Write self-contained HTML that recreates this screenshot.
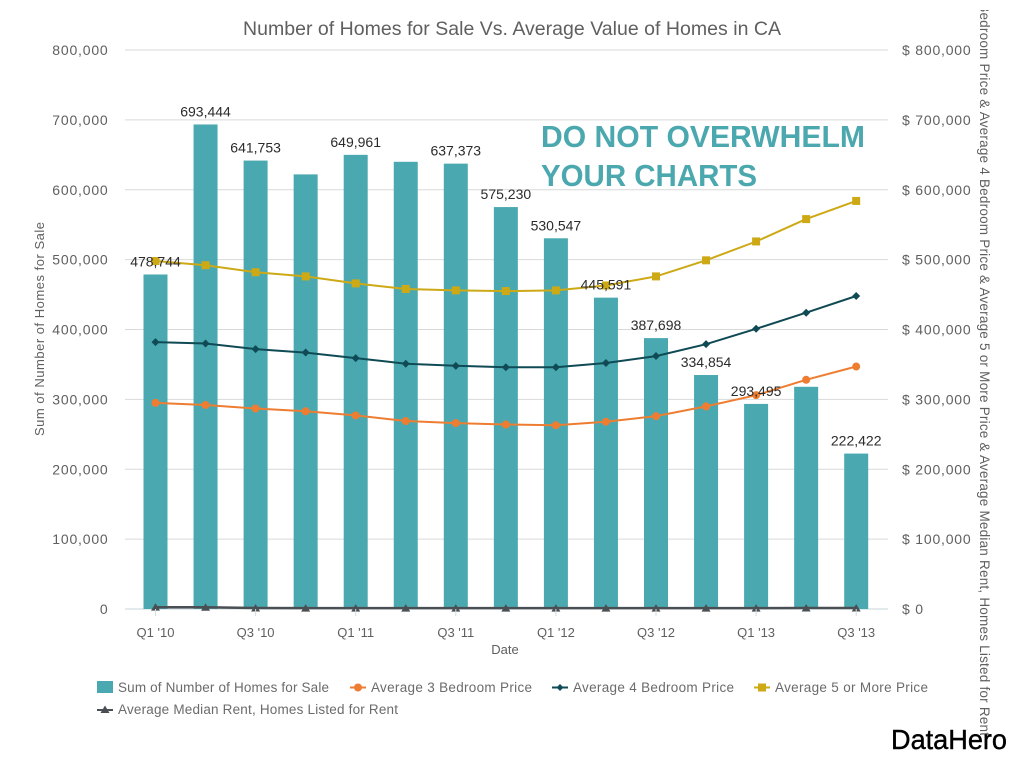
<!DOCTYPE html>
<html lang="en">
<head>
<meta charset="utf-8">
<title>Number of Homes for Sale Vs. Average Value of Homes in CA</title>
<style>
html,body{margin:0;padding:0;background:#fff;}
body{width:1024px;height:769px;overflow:hidden;}
svg{display:block;font-family:"Liberation Sans",sans-serif;}
</style>
</head>
<body>
<svg id="chart" width="1024" height="769" viewBox="0 0 1024 769" xmlns="http://www.w3.org/2000/svg">
  <defs>
    <clipPath id="right-title-clip"><rect x="960" y="10" width="64" height="725"/></clipPath>
  </defs>
  <rect x="0" y="0" width="1024" height="769" fill="#ffffff"/>
  <text x="243" y="35" font-size="19.5" fill="#5f5f5f" textLength="538">Number of Homes for Sale Vs. Average Value of Homes in CA</text>
  <g id="grid"></g>
  <g id="bars"></g>
  <g id="lines"></g>
  <g id="labels"></g>
  <g id="yleft"></g>
  <g id="yright"></g>
  <g id="xaxis"></g>
  <text transform="translate(44,329) rotate(-90)" text-anchor="middle" font-size="13" fill="#5f5f5f" textLength="214">Sum of Number of Homes for Sale</text>
  <text x="505" y="654" text-anchor="middle" font-size="13" fill="#5f5f5f">Date</text>
  <g clip-path="url(#right-title-clip)">
    <text transform="translate(980,-64) rotate(90)" font-size="13.5" fill="#5f5f5f" textLength="800">Average 3 Bedroom Price &amp; Average 4 Bedroom Price &amp; Average 5 or More Price &amp; Average Median Rent, Homes Listed for Rent</text>
  </g>
  <text x="541" y="147" font-size="31" font-weight="bold" fill="#4aa8ae" textLength="324" lengthAdjust="spacingAndGlyphs">DO NOT OVERWHELM</text>
  <text x="541" y="186" font-size="31" font-weight="bold" fill="#4aa8ae" textLength="216" lengthAdjust="spacingAndGlyphs">YOUR CHARTS</text>

  <g font-size="13.5" fill="#6b6b6b">
    <g>
      <rect x="97" y="681" width="16" height="12" fill="#4aa9b0"/>
      <text x="118" y="692" textLength="211">Sum of Number of Homes for Sale</text>
    </g>
    <g>
      <line x1="350" y1="687.5" x2="366" y2="687.5" stroke="#ee7d31" stroke-width="2"/>
      <circle cx="358" cy="687.5" r="4" fill="#ee7d31"/>
      <text x="371" y="692" textLength="161">Average 3 Bedroom Price</text>
    </g>
    <g>
      <line x1="552" y1="687.5" x2="568" y2="687.5" stroke="#0f4a55" stroke-width="2"/>
      <polygon points="560,684 563.5,687.5 560,691 556.5,687.5" fill="#0f4a55"/>
      <text x="573" y="692" textLength="161">Average 4 Bedroom Price</text>
    </g>
    <g>
      <line x1="754" y1="687.5" x2="770" y2="687.5" stroke="#cda915" stroke-width="2"/>
      <rect x="758" y="683.5" width="8" height="8" fill="#cda915"/>
      <text x="775" y="692" textLength="153">Average 5 or More Price</text>
    </g>
    <g>
      <line x1="97" y1="710" x2="113" y2="710" stroke="#4a4f54" stroke-width="2"/>
      <polygon points="105,705.5 109.5,713 100.5,713" fill="#4a4f54"/>
      <text x="118" y="714" textLength="280">Average Median Rent, Homes Listed for Rent</text>
    </g>
  </g>

  <text x="891" y="749" font-size="28" fill="#000000" stroke="#000000" stroke-width="0.4" textLength="116" lengthAdjust="spacingAndGlyphs">DataHero</text>
</svg>
<script>
var categories = ["Q1 '10","Q2 '10","Q3 '10","Q4 '10","Q1 '11","Q2 '11","Q3 '11","Q4 '11","Q1 '12","Q2 '12","Q3 '12","Q4 '12","Q1 '13","Q2 '13","Q3 '13"];
var homesForSale = [478744,693444,641753,622000,649961,640000,637373,575230,530547,445591,387698,334854,293495,318000,222422];
var showBarLabel = [true,true,true,false,true,false,true,true,true,true,true,true,true,false,true];
var bedroom3Price = [295000,292000,287000,283000,277000,269000,266000,264000,263000,268000,276000,290000,306000,328000,347000];
var bedroom4Price = [382000,380000,372000,367000,359000,351000,348000,346000,346000,352000,362000,379000,401000,424000,448000];
var bedroom5Price = [498000,492000,482000,476000,466000,458000,456000,455000,456000,463000,476000,499000,526000,558000,584000];
var medianRent = [2600,2500,1400,1300,1300,1300,1300,1300,1300,1300,1300,1300,1300,1400,1500];
var leftTicks = [0,100000,200000,300000,400000,500000,600000,700000,800000];
var rightTicks = [0,100000,200000,300000,400000,500000,600000,700000,800000];
var xTickLabels = ["Q1 '10","Q3 '10","Q1 '11","Q3 '11","Q1 '12","Q3 '12","Q1 '13","Q3 '13"];

var SVG_NS = 'http://www.w3.org/2000/svg';
function yScale(v){ return 609 - v * (559 / 800000); }
function xScale(i){ return 155.5 + i * 50.05; }
function make(tag, attrs, parent){
  var el = document.createElementNS(SVG_NS, tag);
  for (var k in attrs) { el.setAttribute(k, attrs[k]); }
  parent.appendChild(el);
  return el;
}
function fmt(v){ return v.toLocaleString('en-US'); }

var grid = document.getElementById('grid');
leftTicks.forEach(function(t){
  var line = make('line', {x1:125, x2:888, y1:yScale(t), y2:yScale(t), stroke: t === 0 ? '#c5d6d8' : '#d9d9d9', 'stroke-width':1}, grid);
  
  
});

var yleft = document.getElementById('yleft');
leftTicks.forEach(function(t){
  var label = make('text', {x:108.5, y:yScale(t)+5, 'text-anchor':'end', 'font-size':14, 'letter-spacing':0.8, fill:'#5f5f5f'}, yleft);
  label.textContent = fmt(t);
  
  
});

var yright = document.getElementById('yright');
rightTicks.forEach(function(t){
  var label = make('text', {x:902, y:yScale(t)+5, 'font-size':14, 'letter-spacing':0.8, fill:'#5f5f5f'}, yright);
  label.textContent = '$ ' + fmt(t);
  
  
});

var xaxis = document.getElementById('xaxis');
categories.forEach(function(c, i){
  var pos = xTickLabels.indexOf(c);
  if (pos < 0) { return; }
  var tick = make('line', {x1:xScale(i), x2:xScale(i), y1:609, y2:616, stroke:'#d5dcdd', 'stroke-width':1}, xaxis);
  
  
  var label = make('text', {x:xScale(i), y:637, 'text-anchor':'middle', 'font-size':13, fill:'#5f5f5f'}, xaxis);
  label.textContent = c;
  
  
});

var bars = document.getElementById('bars');
homesForSale.forEach(function(v, i){
  var bar = make('rect', {x:xScale(i)-12, y:yScale(v), width:24, height:609-yScale(v), fill:'#4aa9b0'}, bars);
  
  
});

function drawLine(values, color, width, marker){
  var group = make('g', {}, document.getElementById('lines'));
  
  
  var pts = values.map(function(v, i){ return xScale(i).toFixed(1) + ',' + yScale(v).toFixed(1); }).join(' ');
  var path = make('polyline', {points:pts, fill:'none', stroke:color, 'stroke-width':width}, group);
  
  
  values.forEach(function(v, i){
    var x = xScale(i), y = yScale(v), m;
    if (marker === 'circle') {
      m = make('circle', {cx:x, cy:y, r:4, fill:color}, group);
    } else if (marker === 'square') {
      m = make('rect', {x:x-4, y:y-4, width:8, height:8, fill:color}, group);
    } else if (marker === 'diamond') {
      m = make('polygon', {points:[x,y-4,x+4,y,x,y+4,x-4,y].join(' '), fill:color}, group);
    } else {
      m = make('polygon', {points:[x,y-4,x+4.5,y+3.5,x-4.5,y+3.5].join(' '), fill:color}, group);
    }
    
    
  });
}
drawLine(bedroom3Price, '#ee7d31', 2, 'circle');
drawLine(bedroom4Price, '#0f4a55', 2, 'diamond');
drawLine(bedroom5Price, '#cda915', 2, 'square');
drawLine(medianRent, '#4a4f54', 2.5, 'triangle');

var labels = document.getElementById('labels');
homesForSale.forEach(function(v, i){
  if (!showBarLabel[i]) { return; }
  var label = make('text', {x:xScale(i), y:yScale(v)-8, 'text-anchor':'middle', 'font-size':14, fill:'#2b2b2b'}, labels);
  label.textContent = fmt(v);
  
  
});
</script>
</body>
</html>
